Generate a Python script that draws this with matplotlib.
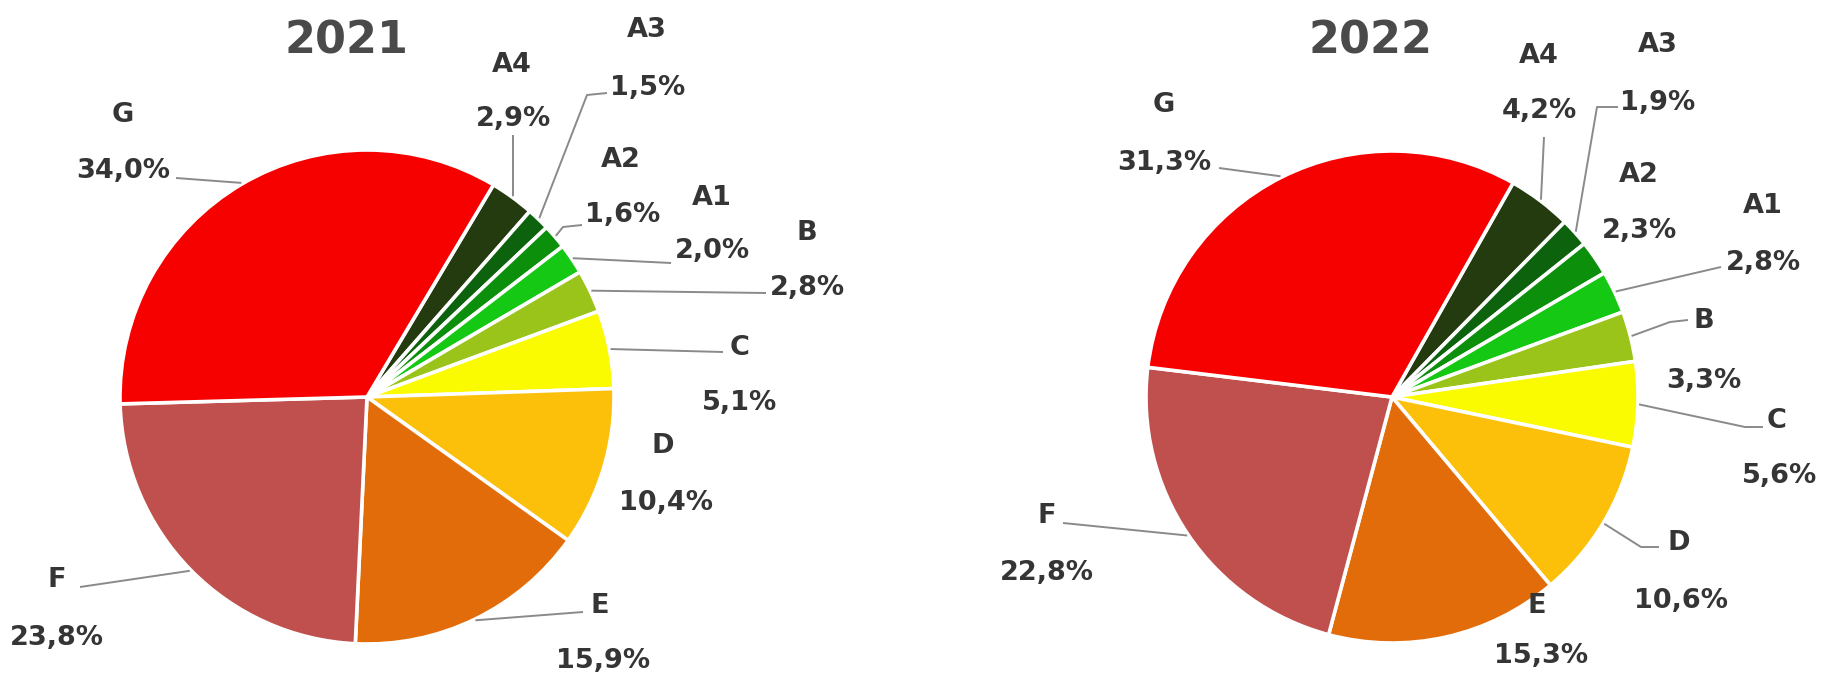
import matplotlib
matplotlib.use("Agg")
import matplotlib.pyplot as plt
import numpy as np

# ---------------- data ----------------
categories = ["A4", "A3", "A2", "A1", "B", "C", "D", "E", "F", "G"]
values_2021 = [2.9, 1.5, 1.6, 2.0, 2.8, 5.1, 10.4, 15.9, 23.8, 34.0]
values_2022 = [4.2, 1.9, 2.3, 2.8, 3.3, 5.6, 10.6, 15.3, 22.8, 31.3]
years = ["2021", "2022"]

colors = ["#233b0e", "#0d620d", "#0c900c", "#14c814", "#9bc41a",
          "#fafa00", "#fcbf0a", "#e36c0a", "#c0504d", "#f70000"]

# ---------------- layout (pixels, y measured from top) ----------------
W, H = 1829, 676
TXT = "#353535"
LEAD = "#8a8a8a"
LABEL_PT = 19.5
TITLE_PT = 32

layout = {
    "2021": {
        "center": (367, 397), "radius": 247, "start": 59.2,
        "title": (347, 37),
        "name": {"A4": (512, 62), "A3": (647, 27), "A2": (621, 157), "A1": (712, 195),
                 "B": (807, 230), "C": (740, 345), "D": (663, 443), "E": (600, 603),
                 "F": (57, 577), "G": (123, 112)},
        "pct": {"A4": (514, 116), "A3": (648, 85), "A2": (623, 212), "A1": (712, 248),
                "B": (807, 285), "C": (740, 400), "D": (666, 500), "E": (603, 658),
                "F": (57, 635), "G": (123, 168)},
        "lead": {"G": [(176, 178)], "A4": [(513, 135)], "A3": [(607, 93), (587, 95)],
                 "A2": [(582, 225), (563, 227)], "A1": [(671, 263)], "B": [(766, 293)],
                 "C": [(723, 352)], "E": [(583, 612)], "F": [(80, 587)]},
    },
    "2022": {
        "center": (1392, 397), "radius": 246, "start": 60.5,
        "title": (1370, 37),
        "name": {"A4": (1539, 53), "A3": (1658, 42), "A2": (1639, 172), "A1": (1763, 203),
                 "B": (1704, 318), "C": (1777, 418), "D": (1679, 540), "E": (1537, 603),
                 "F": (1047, 513), "G": (1164, 102)},
        "pct": {"A4": (1539, 108), "A3": (1658, 100), "A2": (1639, 228), "A1": (1763, 260),
                "B": (1704, 378), "C": (1780, 473), "D": (1681, 598), "E": (1541, 653),
                "F": (1047, 570), "G": (1164, 160)},
        "lead": {"G": [(1219, 168)], "A4": [(1544, 137)], "A3": [(1618, 107), (1597, 107)],
                 "A1": [(1721, 267)], "B": [(1688, 320), (1670, 322)],
                 "C": [(1763, 427), (1745, 427)], "D": [(1659, 547), (1641, 547)],
                 "F": [(1063, 523)]},
    },
}


def P(x, y_top):
    return x, H - y_top


def label(ax, x, y_center_top, s, size, color):
    # place text so that the capital letters are vertically centred on y
    cap_px = 0.729 * size * 100 / 72
    xx, yy = P(x, y_center_top + cap_px / 2)
    ax.text(xx, yy, s, ha="center", va="baseline", fontsize=size,
            fontweight="bold", color=color, family="DejaVu Sans")


fig = plt.figure(figsize=(W / 100, H / 100), dpi=100)
ax = fig.add_axes([0, 0, 1, 1])

for year, vals in zip(years, [values_2021, values_2022]):
    L = layout[year]
    cx, cy = P(*L["center"])
    r = L["radius"]
    wedges, _ = ax.pie(vals, colors=colors, startangle=L["start"], counterclock=False,
                       center=(cx, cy), radius=r, frame=True,
                       wedgeprops=dict(edgecolor="white", linewidth=2.6))
    label(ax, *L["title"], year, TITLE_PT, "#4a4a4a")
    for cat, v, w in zip(categories, vals, wedges):
        label(ax, *L["name"][cat], cat, LABEL_PT, TXT)
        label(ax, *L["pct"][cat], f"{v:.1f}%".replace(".", ","), LABEL_PT, TXT)
        if cat in L["lead"]:
            mid = np.deg2rad((w.theta1 + w.theta2) / 2)
            ex, ey = cx + r * 1.005 * np.cos(mid), cy + r * 1.005 * np.sin(mid)
            pts = [P(*p) for p in L["lead"][cat]] + [(ex, ey)]
            xs, ys = zip(*pts)
            ax.plot(xs, ys, color=LEAD, lw=1.4, solid_capstyle="butt")

ax.set_xlim(0, W)
ax.set_ylim(0, H)
ax.set_aspect("auto")
ax.axis("off")
fig.savefig("out.png", dpi=100, facecolor="white")
